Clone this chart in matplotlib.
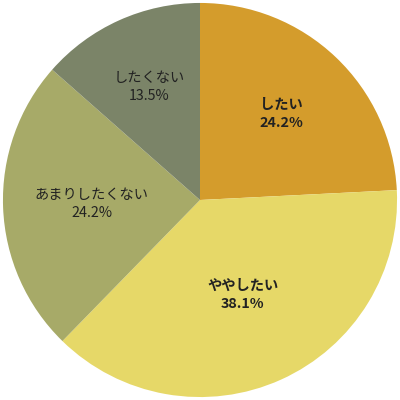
import numpy as np
import matplotlib.pyplot as plt

plt.rcParams['font.family'] = ['Noto Sans CJK JP', 'DejaVu Sans']

labels = ['したい', 'ややしたい', 'あまりしたくない', 'したくない']
values = [24.2, 38.1, 24.2, 13.5]
colors = ['#D49C2C', '#E6D868', '#A7AA68', '#7B8468']
weights = ['bold', 'bold', 'normal', 'normal']
label_r = [0.60, 0.53, 0.55, 0.63]

fig = plt.figure(figsize=(4, 4), dpi=100)
ax = fig.add_axes([0, 0, 1, 1])

wedges, _ = ax.pie(values, colors=colors, startangle=90, counterclock=False,
                   radius=1.0, wedgeprops=dict(linewidth=0))

for w, lab, v, fw, r in zip(wedges, labels, values, weights, label_r):
    ang = np.deg2rad((w.theta1 + w.theta2) / 2)
    ax.text(r * np.cos(ang), r * np.sin(ang), f'{lab}\n{v}%',
            ha='center', va='center', fontsize=10.3, fontweight=fw,
            color='#222222', linespacing=1.35)

ax.set_xlim(-1.015, 1.015)
ax.set_ylim(-1.015, 1.015)
ax.set_aspect('equal')
ax.axis('off')

fig.savefig('out.png', dpi=100)
